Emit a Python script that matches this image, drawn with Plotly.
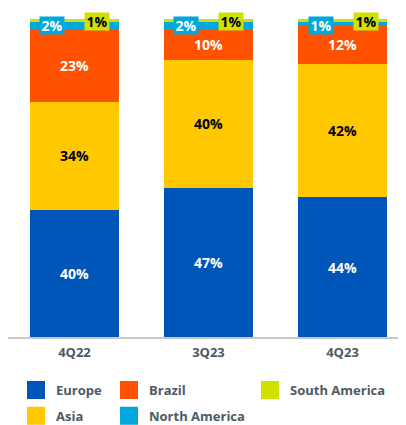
import plotly.graph_objects as go

categories = ["4Q22", "3Q23", "4Q23"]
europe = [40, 47, 44]
asia = [34, 40, 42]
brazil = [23, 10, 12]
north_america = [2, 2, 1]
south_america = [1, 1, 1]

series = [
    ("Europe", europe, "#0056B8", "white"),
    ("Asia", asia, "#FFC800", "black"),
    ("Brazil", brazil, "#FF5100", "white"),
    ("North America", north_america, "#00A8DE", "white"),
    ("South America", south_america, "#D2E000", "black"),
]
legend_of = {"Europe": "legend", "Asia": "legend", "Brazil": "legend2",
             "North America": "legend2", "South America": "legend3"}

FONT = "Open Sans"
W, H = 398, 417
fig = go.Figure()
for name, vals, color, tcolor in series:
    inside = name in ("Europe", "Asia", "Brazil")
    fig.add_trace(go.Bar(
        x=categories, y=vals, name=name, width=0.664,
        marker=dict(color=color, line=dict(width=0)),
        text=[f"{v}%" for v in vals] if inside else None,
        textposition="inside" if inside else "none",
        insidetextanchor="middle",
        textfont=dict(color=tcolor, size=14, family=FONT, weight="bold"),
        constraintext="none",
        showlegend=False, hoverinfo="skip",
    ))
for name, vals, color, tcolor in series:
    # legend proxy on hidden axes, outside their visible range
    fig.add_trace(go.Scatter(
        x=[0], y=[0], mode="markers", name=name, xaxis="x2", yaxis="y2",
        marker=dict(symbol="square", size=16, color=color,
                    line=dict(color=color, width=2)),
        legend=legend_of[name], legendgroup=name, hoverinfo="skip",
    ))

totals = [sum(v) for v in zip(europe, asia, brazil, north_america, south_america)]
for i, cat in enumerate(categories):
    fig.add_annotation(x=cat, y=totals[i], xref="x", yref="y",
                       text=f"{north_america[i]}%", showarrow=False,
                       xshift=-22, yshift=-6, bgcolor="#00A8DE",
                       font=dict(color="white", size=14, family=FONT, weight="bold"),
                       borderpad=0, width=24, height=17)
    fig.add_annotation(x=cat, y=totals[i], xref="x", yref="y",
                       text=f"{south_america[i]}%", showarrow=False,
                       xshift=23, yshift=-2, bgcolor="#D2E000",
                       font=dict(color="black", size=14, family=FONT, weight="bold"),
                       borderpad=0, width=24, height=17)

legend_common = dict(font=dict(size=13, family=FONT, color="#4D5966", weight="bold"),
                     orientation="v", xref="container", yref="container",
                     xanchor="left", yanchor="top", bgcolor="rgba(0,0,0,0)",
                     tracegroupgap=6, itemclick=False, itemdoubleclick=False)

fig.update_layout(
    width=W, height=H,
    margin=dict(l=0, r=4, t=11, b=88, autoexpand=False),
    barmode="stack", plot_bgcolor="white", paper_bgcolor="white",
    xaxis=dict(type="category", range=[-0.496, 2.444], showline=True,
               linecolor="#C8C8C8", linewidth=1.5,
               showgrid=False, zeroline=False, ticks="", ticklabelstandoff=3,
               tickfont=dict(size=13, family=FONT, color="#4D5966", weight="bold")),
    yaxis=dict(range=[0, 100], visible=False, showgrid=False, zeroline=False),
    xaxis2=dict(range=[10, 11], visible=False, overlaying="x", showgrid=False, zeroline=False),
    yaxis2=dict(range=[10, 11], visible=False, overlaying="y", showgrid=False, zeroline=False),
    legend=dict(x=8 / W, y=1 - 367 / H, **legend_common),
    legend2=dict(x=101 / W, y=1 - 367 / H, **legend_common),
    legend3=dict(x=242 / W, y=1 - 367 / H, **legend_common),
    showlegend=True,
)

fig.write_html("out.html")
